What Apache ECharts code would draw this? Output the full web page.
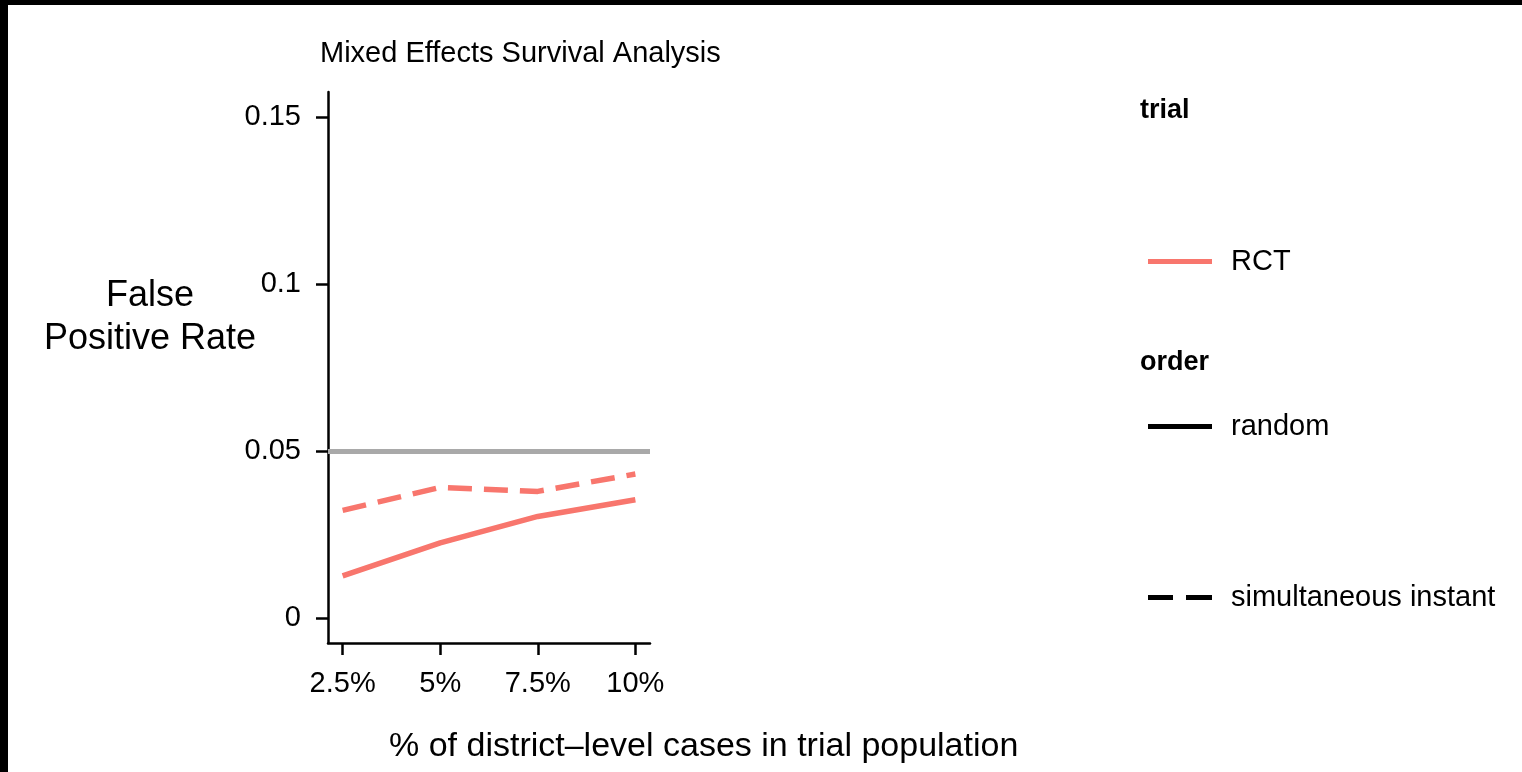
<!DOCTYPE html>
<html>
<head>
<meta charset="utf-8">
<script src="https://cdn.jsdelivr.net/npm/echarts@6/dist/echarts.min.js"></script>
<style>
  html, body { margin: 0; padding: 0; background: #fff; }
  #chart { position: absolute; left: 0; top: 0; width: 1522px; height: 772px; }
  .bar { position: absolute; background: #000; z-index: 10; }
</style>
</head>
<body>
<div id="chart"></div>
<div class="bar" style="left:0;top:0;width:1522px;height:5px;"></div>
<div class="bar" style="left:0;top:0;width:8px;height:772px;"></div>
<script>
// ---- data ----
const xValues = [2.5, 5, 7.5, 10];
const randomFPR = [0.0126, 0.0225, 0.0304, 0.0354];
const simultaneousFPR = [0.0322, 0.0391, 0.0379, 0.0431];
const xTicks = [2.5, 5, 7.5, 10];
const xTickLabels = ['2.5%', '5%', '7.5%', '10%'];
const yTicks = [0, 0.05, 0.1, 0.15];
const yTickLabels = ['0', '0.05', '0.1', '0.15'];
const referenceRate = 0.05;
const trialLevels = ['RCT'];
const orderLevels = ['random', 'simultaneous instant'];

const FONT = '"Liberation Sans", Arial, Helvetica, sans-serif';
const RED = '#F8766D';
const SOLID_ICON = 'path://M0,0h64v5h-64z';
const DASH_ICON = 'path://M0,0h25v5h-25z M38,0h26v5h-26z';

function pairs(xs, ys) { return xs.map((x, i) => [x, ys[i]]); }

const chart = echarts.init(document.getElementById('chart'), null, { renderer: 'canvas' });

const option = {
  backgroundColor: '#fff',
  animation: false,
  textStyle: { fontFamily: FONT },
  title: [
    { text: 'Mixed Effects Survival Analysis', left: 315, top: 34, padding: 5,
      textStyle: { fontFamily: FONT, fontSize: 29, fontWeight: 'normal', color: '#000' } },
    { text: 'False\nPositive Rate', left: 145, top: 270, textAlign: 'center',
      textStyle: { fontFamily: FONT, fontSize: 36, fontWeight: 'normal', color: '#000', lineHeight: 43, align: 'center' } },
    { text: '% of district\u2013level cases in trial population', left: 384, top: 725,
      textStyle: { fontFamily: FONT, fontSize: 34, fontWeight: 'normal', color: '#000' } },
    { text: 'trial', left: 1135, top: 92,
      textStyle: { fontFamily: FONT, fontSize: 27, fontWeight: 'bold', color: '#000' } },
    { text: 'order', left: 1135, top: 344,
      textStyle: { fontFamily: FONT, fontSize: 27, fontWeight: 'bold', color: '#000' } }
  ],
  legend: [
    { orient: 'vertical', left: 1148, top: 247, padding: 0,
      data: [{ name: trialLevels[0], icon: SOLID_ICON }],
      itemWidth: 64, itemHeight: 5, itemGap: 0, selectedMode: false,
      textStyle: { fontFamily: FONT, fontSize: 29, color: '#000', padding: [0, 0, 0, 14] } },
    { orient: 'vertical', left: 1148, top: 412, padding: 0,
      data: [{ name: orderLevels[0], icon: SOLID_ICON }, { name: orderLevels[1], icon: DASH_ICON }],
      itemWidth: 64, itemHeight: 5, itemGap: 142, selectedMode: false,
      textStyle: { fontFamily: FONT, fontSize: 29, color: '#000', padding: [0, 0, 0, 14] } }
  ],
  grid: { left: 328, right: 872, top: 92, bottom: 129, containLabel: false },
  xAxis: {
    type: 'value', min: 2.125, max: 10.375,
    axisLine: { show: true, onZero: false, lineStyle: { color: '#000', width: 2.5 } },
    axisTick: { show: true, length: 12, lineStyle: { color: '#000', width: 2.5 }, customValues: xTicks },
    axisLabel: { show: true, fontFamily: FONT, fontSize: 29, color: '#000', margin: 26,
      customValues: xTicks,
      formatter: v => xTickLabels[xTicks.indexOf(v)] ?? '' },
    splitLine: { show: false }
  },
  yAxis: {
    type: 'value', min: -0.0075, max: 0.1575,
    axisLine: { show: true, onZero: false, lineStyle: { color: '#000', width: 2.5 } },
    axisTick: { show: true, length: 12, lineStyle: { color: '#000', width: 2.5 }, customValues: yTicks },
    axisLabel: { show: true, fontFamily: FONT, fontSize: 29, color: '#000', margin: 27,
      customValues: yTicks,
      formatter: v => yTickLabels[yTicks.indexOf(v)] ?? '' },
    splitLine: { show: false }
  },
  series: [
    { name: 'RCT random', type: 'line', data: pairs(xValues, randomFPR),
      symbol: 'none', lineStyle: { color: RED, width: 5.5, cap: 'butt' }, itemStyle: { color: RED }, z: 3,
      markLine: { silent: true, symbol: 'none', label: { show: false },
        lineStyle: { color: '#A9A9A9', width: 5, type: 'solid' },
        data: [{ yAxis: referenceRate }], z: 1 } },
    { name: 'RCT simultaneous instant', type: 'line', data: pairs(xValues, simultaneousFPR),
      symbol: 'none', lineStyle: { color: RED, width: 5.5, type: [24, 12], cap: 'butt' }, itemStyle: { color: RED }, z: 3 },
    // legend-only keys
    { name: 'RCT', type: 'line', data: [], symbol: 'none',
      lineStyle: { color: RED, width: 5 }, itemStyle: { color: RED } },
    { name: 'random', type: 'line', data: [], symbol: 'none',
      lineStyle: { color: '#000', width: 5 }, itemStyle: { color: '#000' } },
    { name: 'simultaneous instant', type: 'line', data: [], symbol: 'none',
      lineStyle: { color: '#000', width: 5, type: [25, 13] }, itemStyle: { color: '#000' } }
  ]
};
chart.setOption(option);
</script>
</body>
</html>
